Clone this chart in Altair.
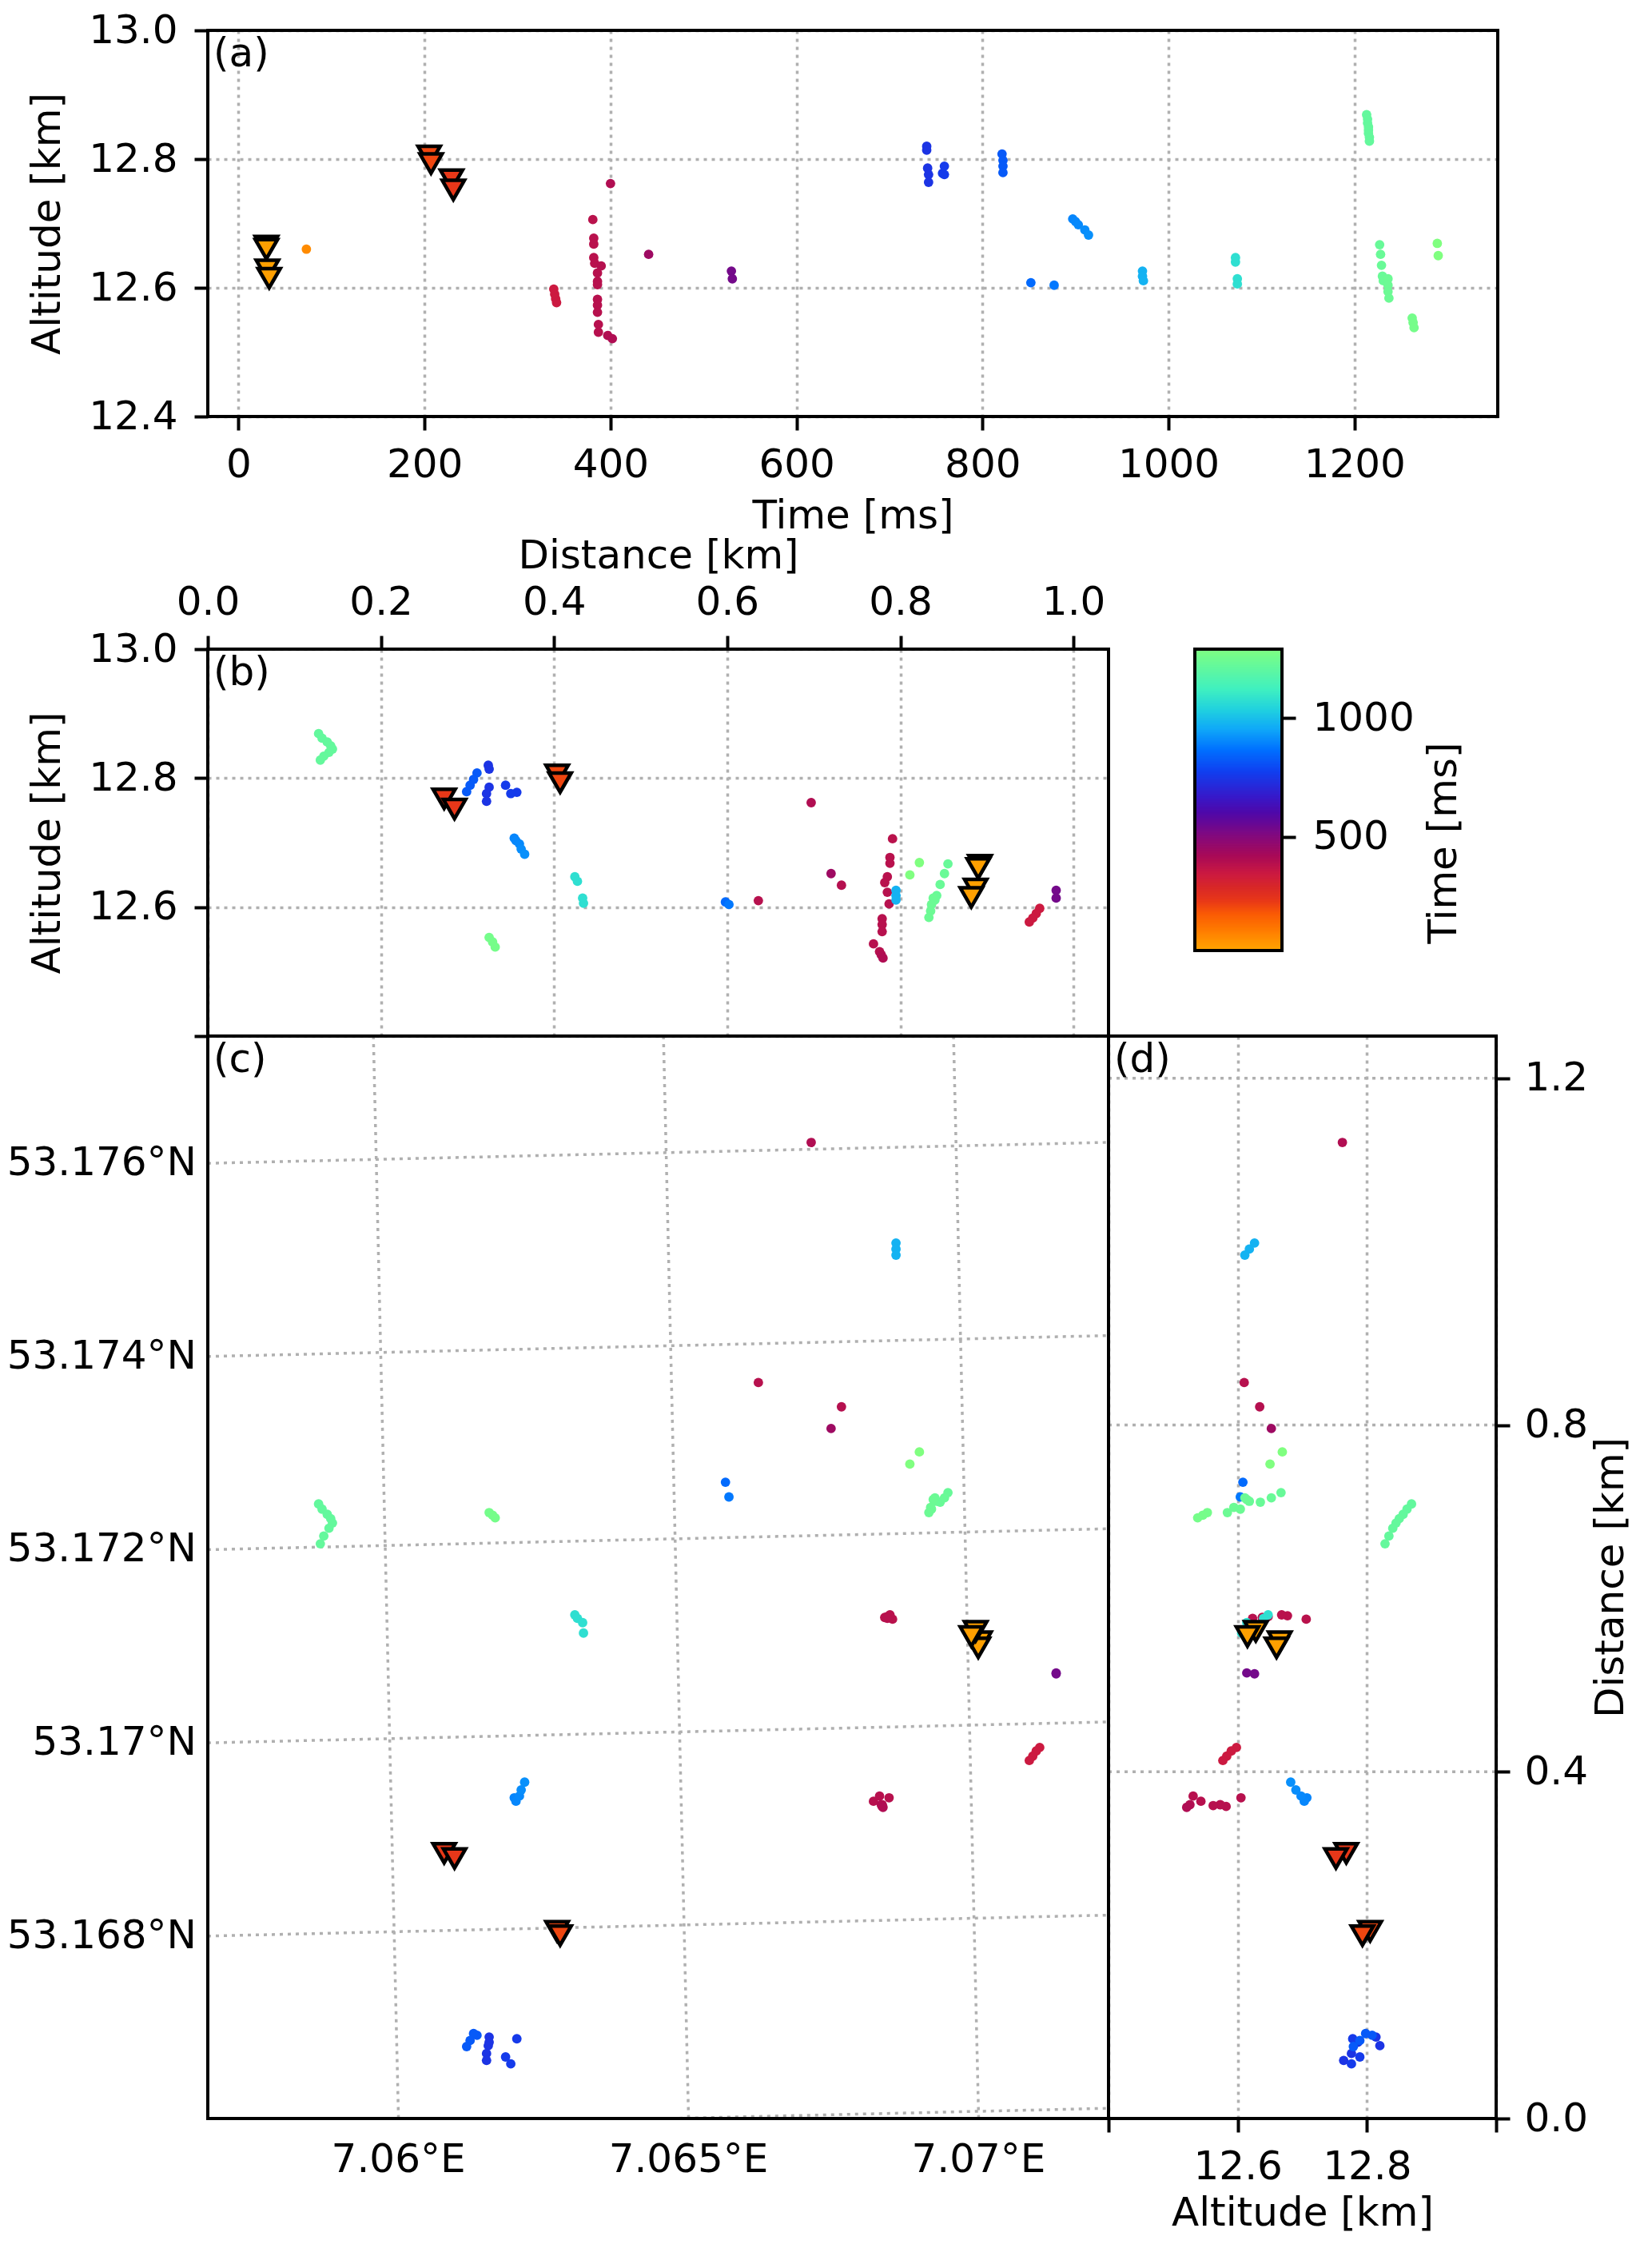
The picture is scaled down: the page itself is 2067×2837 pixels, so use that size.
import math
import altair as alt
import pandas as pd

# ------------------------------------------------------------------ data
# triangles (first sources), time [ms], altitude [km], x/y distance [km]
TRI_T = [30, 30, 31, 33, 205, 207, 229, 231]
TRI_ALT = [12.665, 12.660, 12.628, 12.615, 12.805, 12.793, 12.768, 12.752]
TRI_X = [0.892, 0.890, 0.887, 0.882, 0.4035, 0.407, 0.273, 0.285]
TRI_Y = [0.550, 0.543, 0.562, 0.556, 0.216, 0.211, 0.306, 0.300]

# dots (other sources)
DOT_T = [73,
         339, 340, 341, 342,
         381, 382, 382, 382, 383, 386, 386, 386, 386, 386, 386, 387, 387, 390, 397, 400, 402,
         441, 530, 531,
         740, 740, 741, 742, 742, 757, 759, 759,
         821, 822, 822, 822,
         852, 877,
         897, 900, 903, 910, 914,
         972, 972, 973,
         1072, 1072, 1074, 1074,
         1213, 1214, 1214, 1215, 1215, 1215, 1216, 1216,
         1227, 1228, 1229, 1230, 1231, 1236, 1236, 1236, 1237,
         1262, 1263, 1264,
         1289, 1290]
DOT_ALT = [12.660,
           12.598, 12.590, 12.583, 12.577,
           12.706, 12.677, 12.668, 12.647, 12.638, 12.623, 12.610, 12.605, 12.582, 12.573, 12.562, 12.543, 12.531, 12.634, 12.526, 12.762, 12.521,
           12.652, 12.626, 12.614,
           12.820, 12.814, 12.786, 12.776, 12.764, 12.778, 12.789, 12.776,
           12.808, 12.798, 12.789, 12.779,
           12.608, 12.604,
           12.707, 12.703, 12.698, 12.690, 12.682,
           12.626, 12.618, 12.611,
           12.647, 12.640, 12.614, 12.606,
           12.869, 12.862, 12.856, 12.850, 12.845, 12.840, 12.834, 12.828,
           12.667, 12.652, 12.635, 12.618, 12.611, 12.614, 12.604, 12.594, 12.584,
           12.553, 12.546, 12.538,
           12.669, 12.650]
DOT_X = [0.890,
         0.961, 0.957, 0.953, 0.949,
         0.791, 0.788, 0.788, 0.785, 0.782, 0.785, 0.636, 0.787, 0.779, 0.779, 0.779, 0.769, 0.776, 0.732, 0.778, 0.697, 0.780,
         0.720, 0.980, 0.980,
         0.324, 0.325, 0.325, 0.322, 0.322, 0.357, 0.344, 0.350,
         0.311, 0.307, 0.303, 0.299,
         0.598, 0.602,
         0.354, 0.356, 0.360, 0.362, 0.366,
         0.795, 0.795, 0.795,
         0.424, 0.427, 0.433, 0.434,
         0.128, 0.132, 0.138, 0.142, 0.144, 0.140, 0.134, 0.130,
         0.855, 0.851, 0.846, 0.842, 0.840, 0.838, 0.836, 0.835, 0.833,
         0.325, 0.329, 0.332,
         0.822, 0.811]
DOT_Y = [0.555,
         0.428, 0.424, 0.418, 0.413,
         0.576, 0.580, 0.581, 0.579, 0.578, 0.577, 0.849, 0.370, 0.360, 0.362, 0.361, 0.366, 0.372, 0.821, 0.362, 1.126, 0.359,
         0.796, 0.513, 0.514,
         0.084, 0.094, 0.088, 0.075, 0.067, 0.092, 0.071, 0.063,
         0.096, 0.098, 0.090, 0.083,
         0.734, 0.717,
         0.370, 0.366, 0.372, 0.379, 0.388,
         1.010, 1.003, 0.996,
         0.581, 0.577, 0.572, 0.560,
         0.709, 0.703, 0.697, 0.692, 0.687, 0.681, 0.672, 0.663,
         0.722, 0.716, 0.711, 0.712, 0.716, 0.714, 0.703, 0.705, 0.699,
         0.699, 0.696, 0.693,
         0.769, 0.755]

# colour map stops (time [ms] -> colour)
CB_T = [20, 96, 174, 229, 285, 340, 419, 508, 597, 664, 730, 774, 864, 952, 1031, 1120, 1290]
CB_COLORS = ["#ffa500", "#ff8000", "#fa5a05", "#e83818", "#d82828", "#cc1a40", "#a80a58",
             "#800a80", "#5008a8", "#3818c8", "#2030e0", "#1040f0", "#0070ff", "#10a8f8",
             "#20d0e0", "#40f0c0", "#80ff80"]

# ticks / labels
TIME_TICKS = [0, 200, 400, 600, 800, 1000, 1200]
ALT_TICKS = [12.4, 12.6, 12.8, 13.0]
DIST_X_TICKS = [0.0, 0.2, 0.4, 0.6, 0.8, 1.0]
DIST_Y_TICKS = [0.0, 0.4, 0.8, 1.2]
CB_TICKS = [500, 1000]
MERIDIANS = [7.060, 7.065, 7.070]
PARALLELS = [53.164, 53.166, 53.168, 53.170, 53.172, 53.174, 53.176, 53.178]
LAT_LABEL_VALUES = [53.168, 53.170, 53.172, 53.174, 53.176]
LAT_LABEL_TEXT = ["53.168°N", "53.17°N", "53.172°N", "53.174°N", "53.176°N"]
LON_LABEL_VALUES = [7.060, 7.065, 7.070]
LON_LABEL_TEXT = ["7.06°E", "7.065°E", "7.07°E"]

# local grid <-> lon/lat relation
LON0, LAT0 = 7.065, 53.170
X0, Y0 = 0.545, 0.446
KLON, KLAT = 67.0, 111.4
ROT = 1.33
S = round(math.sin(math.radians(ROT)), 6)
C = round(math.cos(math.radians(ROT)), 6)

# ------------------------------------------------------------------ layout / style
FONT = "DejaVu Sans"
FS = 50
GRID_COLOR = "#b0b0b0"
GRID_W = 3.5
GRID_DASH = [4, 6]
DOT_SIZE = 140
TRI_SIZE = 770

W_A, H_A = 1614, 483
W_B, H_B = 1127, 484
CB_GAP, W_CB, H_CB = 108, 109, 377
W_C, W_D, H_C = 1127, 485, 1354
GAP = 291

T_DOMAIN = [-33, 1354]
ALT_DOMAIN = [12.4, 13.0]
DX_MAX = 1.0405
DY_MAX = 1.2487

dots_df = pd.DataFrame({"t": DOT_T, "alt": DOT_ALT, "x": DOT_X, "y": DOT_Y})
tris_df = pd.DataFrame({"t": TRI_T, "alt": TRI_ALT, "x": TRI_X, "y": TRI_Y})

color_scale = alt.Scale(domain=CB_T, range=CB_COLORS, interpolate="rgb")


def make_axis(orient, values, title=None, fmt=None, expr=None, grid=True,
              label_pad=18, title_pad=10, **extra):
    props = dict(orient=orient, values=values, grid=grid, domain=False,
                 tickColor="black", tickWidth=4, tickSize=17,
                 labelFont=FONT, labelFontSize=FS, labelColor="black",
                 labelPadding=label_pad, labelFlush=False, labelOverlap=False,
                 titleFont=FONT, titleFontSize=FS, titleFontWeight="normal",
                 titleColor="black", titlePadding=title_pad, title=title)
    if grid:
        props.update(gridColor=GRID_COLOR, gridWidth=GRID_W, gridDash=GRID_DASH)
    if fmt:
        props["format"] = fmt
    if expr:
        props["labelExpr"] = expr
    props.update(extra)
    return alt.Axis(**props)


def point_layers(xf, yf, xs, ys, xa, ya):
    X = alt.X(f"{xf}:Q", scale=xs, axis=xa)
    Y = alt.Y(f"{yf}:Q", scale=ys, axis=ya)
    dots = alt.Chart(dots_df).mark_circle(size=DOT_SIZE, opacity=1).encode(
        x=X, y=Y, color=alt.Color("t:Q", scale=color_scale, legend=None))
    tris = alt.Chart(tris_df).mark_point(
        shape="triangle-down", size=TRI_SIZE, filled=True, opacity=1,
        stroke="black", strokeWidth=4.5).encode(
        x=X, y=Y, fill=alt.Fill("t:Q", scale=color_scale, legend=None))
    return [dots, tris]


def panel_label(text, x0=0):
    return alt.Chart(alt.Data(values=[{"s": text}])).mark_text(
        font=FONT, fontSize=FS, color="black", align="left", baseline="top"
    ).encode(x=alt.value(x0 + 7), y=alt.value(5), text="s:N")


def frame(x0, x1, y0, y1):
    return alt.Chart(alt.Data(values=[{"k": 0}])).mark_rect(
        fillOpacity=0, stroke="black", strokeWidth=4).encode(
        x=alt.value(x0), x2=alt.value(x1), y=alt.value(y0), y2=alt.value(y1))


# ------------------------------------------------------------------ (a)
xs_a = alt.Scale(domain=T_DOMAIN, nice=False, zero=False)
ys_alt = alt.Scale(domain=ALT_DOMAIN, nice=False, zero=False)
ax_a_x = make_axis("bottom", TIME_TICKS, "Time [ms]", fmt="d", label_pad=18, title_pad=14)
ax_a_y = make_axis("left", ALT_TICKS, "Altitude [km]", fmt=".1f", label_pad=21, title_pad=26)
A = alt.layer(*point_layers("t", "alt", xs_a, ys_alt, ax_a_x, ax_a_y),
              panel_label("(a)"), frame(0, W_A, 0, H_A)).properties(width=W_A, height=H_A)

spacer = alt.Chart(alt.Data(values=[{"k": 0}])).mark_point(opacity=0).encode(
    x=alt.value(0), y=alt.value(0)).properties(width=W_A, height=GAP)

# ------------------------------------------------------------------ (b) + colour bar
xs_b = alt.Scale(domain=[0, DX_MAX], nice=False, zero=False)
ax_b_x = make_axis("top", DIST_X_TICKS, "Distance [km]", fmt=".1f", label_pad=17, title_pad=8)
ax_b_y = make_axis("left", ALT_TICKS, "Altitude [km]",
                   expr="datum.value < 12.45 ? '' : format(datum.value, '.1f')",
                   label_pad=21, title_pad=26)
b_layer = alt.layer(*point_layers("x", "alt", xs_b, ys_alt, ax_b_x, ax_b_y),
                    panel_label("(b)"), frame(0, W_B, 0, H_B))

cb_lo = CB_T[-1] - (H_B / H_CB) * (CB_T[-1] - CB_T[0])
cb_scale = alt.Scale(domain=[cb_lo, CB_T[-1]], nice=False, zero=False)
ax_cb = make_axis("right", CB_TICKS, "Time [ms]", fmt="d", grid=False, label_pad=21,
                  title_pad=12, titleAngle=270, titleBaseline="top",
                  offset=CB_GAP + W_CB)
# gradient strips: each strip overlaps the next ones so no seams show
cb_rect = alt.Chart(alt.sequence(CB_T[0], CB_T[-1], 2, as_="t")).transform_calculate(
    t2=f"min(datum.t + 8, {CB_T[-1]})"
).mark_rect().encode(
    x=alt.value(W_B + CB_GAP), x2=alt.value(W_B + CB_GAP + W_CB),
    y=alt.Y("t:Q", scale=cb_scale, axis=ax_cb), y2="t2:Q",
    color=alt.Color("t:Q", scale=color_scale, legend=None))
cb_layer = alt.layer(cb_rect, frame(W_B + CB_GAP, W_B + CB_GAP + W_CB, 0, H_CB))

BC = alt.layer(b_layer, cb_layer).resolve_scale(y="independent").properties(width=W_B, height=H_B)

# ------------------------------------------------------------------ (c) + (d)
xs_c = alt.Scale(domain=[0, DX_MAX * (W_C + W_D) / W_C], nice=False, zero=False)
ys_d = alt.Scale(domain=[0, DY_MAX], nice=False, zero=False)
ax_d_y = make_axis("right", DIST_Y_TICKS, "Distance [km]", fmt=".1f", grid=False,
                   label_pad=18, title_pad=4, titleAngle=270, titleBaseline="top")
grid_line = dict(clip=True, color=GRID_COLOR, strokeWidth=GRID_W, strokeDash=GRID_DASH)

mer_df = pd.DataFrame({"lon": [m for m in MERIDIANS for _ in (0, 1)],
                       "side": [s for _ in MERIDIANS for s in (0, 1)]})
mer = alt.Chart(mer_df).transform_calculate(
    gy=f"datum.side * {DY_MAX}"
).transform_calculate(
    dE=f"(datum.lon - {LON0}) * {KLON}"
).transform_calculate(
    dN=f"(datum.gy - {Y0} - datum.dE * {S}) / {C}"
).transform_calculate(
    gx=f"{X0} + datum.dE * {C} - datum.dN * {S}"
).mark_line(**grid_line).encode(
    x=alt.X("gx:Q", scale=xs_c, axis=None), y=alt.Y("gy:Q", scale=ys_d, axis=ax_d_y),
    detail="lon:N")

par_df = pd.DataFrame({"lat": [p for p in PARALLELS for _ in (0, 1)],
                       "side": [s for _ in PARALLELS for s in (0, 1)]})
par = alt.Chart(par_df).transform_calculate(
    gx=f"datum.side * {DX_MAX}"
).transform_calculate(
    dN=f"(datum.lat - {LAT0}) * {KLAT}"
).transform_calculate(
    dE=f"(datum.gx - {X0} + datum.dN * {S}) / {C}"
).transform_calculate(
    gy=f"{Y0} + datum.dE * {S} + datum.dN * {C}"
).mark_line(**grid_line).encode(
    x=alt.X("gx:Q", scale=xs_c, axis=None), y=alt.Y("gy:Q", scale=ys_d, axis=ax_d_y),
    detail="lat:N")

lat_lab = alt.Chart(pd.DataFrame({"lat": LAT_LABEL_VALUES, "txt": LAT_LABEL_TEXT})).transform_calculate(
    dN=f"(datum.lat - {LAT0}) * {KLAT}"
).transform_calculate(
    dE=f"(datum.dN * {S} - {X0}) / {C}"
).transform_calculate(
    ly=f"{Y0} + datum.dE * {S} + datum.dN * {C}"
).mark_text(font=FONT, fontSize=FS, color="black", align="right", baseline="middle").encode(
    x=alt.value(-14), y=alt.Y("ly:Q", scale=ys_d, axis=ax_d_y), text="txt:N")

lon_lab = alt.Chart(pd.DataFrame({"lon": LON_LABEL_VALUES, "txt": LON_LABEL_TEXT})).transform_calculate(
    dE=f"(datum.lon - {LON0}) * {KLON}"
).transform_calculate(
    dN=f"(0 - {Y0} - datum.dE * {S}) / {C}"
).transform_calculate(
    lx=f"{X0} + datum.dE * {C} - datum.dN * {S}"
).mark_text(font=FONT, fontSize=FS, color="black", align="center", baseline="top").encode(
    x=alt.X("lx:Q", scale=xs_c, axis=None), y=alt.value(H_C + 27), text="txt:N")

c_layer = alt.layer(par, mer, *point_layers("x", "y", xs_c, ys_d, None, ax_d_y),
                    lat_lab, lon_lab, panel_label("(c)"))

xs_d = alt.Scale(domain=[ALT_DOMAIN[0] - (ALT_DOMAIN[1] - ALT_DOMAIN[0]) * W_C / W_D, ALT_DOMAIN[1]],
                 nice=False, zero=False)
ax_d_x = make_axis("bottom", ALT_TICKS, "Altitude [km]",
                   expr="(datum.value < 12.45 || datum.value > 12.95) ? '' : format(datum.value, '.1f')",
                   label_pad=18, title_pad=8, titleX=W_C + W_D / 2, titleAlign="center")
d_rules = alt.Chart(pd.DataFrame({"v": DIST_Y_TICKS})).transform_filter(
    "datum.v > 0").mark_rule(color=GRID_COLOR, strokeWidth=GRID_W, strokeDash=GRID_DASH).encode(
    y=alt.Y("v:Q", scale=ys_d, axis=ax_d_y), x=alt.value(W_C), x2=alt.value(W_C + W_D))
divider = alt.Chart(alt.Data(values=[{"k": 0}])).mark_rule(color="black", strokeWidth=4).encode(
    x=alt.value(W_C), y=alt.value(0), y2=alt.value(H_C))
d_layer = alt.layer(d_rules, *point_layers("alt", "y", xs_d, ys_d, ax_d_x, ax_d_y),
                    panel_label("(d)", W_C), divider, frame(0, W_C + W_D, 0, H_C))

CD = alt.layer(c_layer, d_layer).resolve_scale(x="independent").properties(
    width=W_C + W_D, height=H_C)

# ------------------------------------------------------------------ compose
chart = alt.vconcat(A, spacer, BC, CD, spacing=0, bounds="flush").resolve_scale(
    color="independent", fill="independent"
).properties(
    padding={"left": 0, "top": 5, "right": 12, "bottom": 12}
).configure_view(strokeWidth=0)

chart.save("out.html", embed_options={"renderer": "svg", "actions": False})
